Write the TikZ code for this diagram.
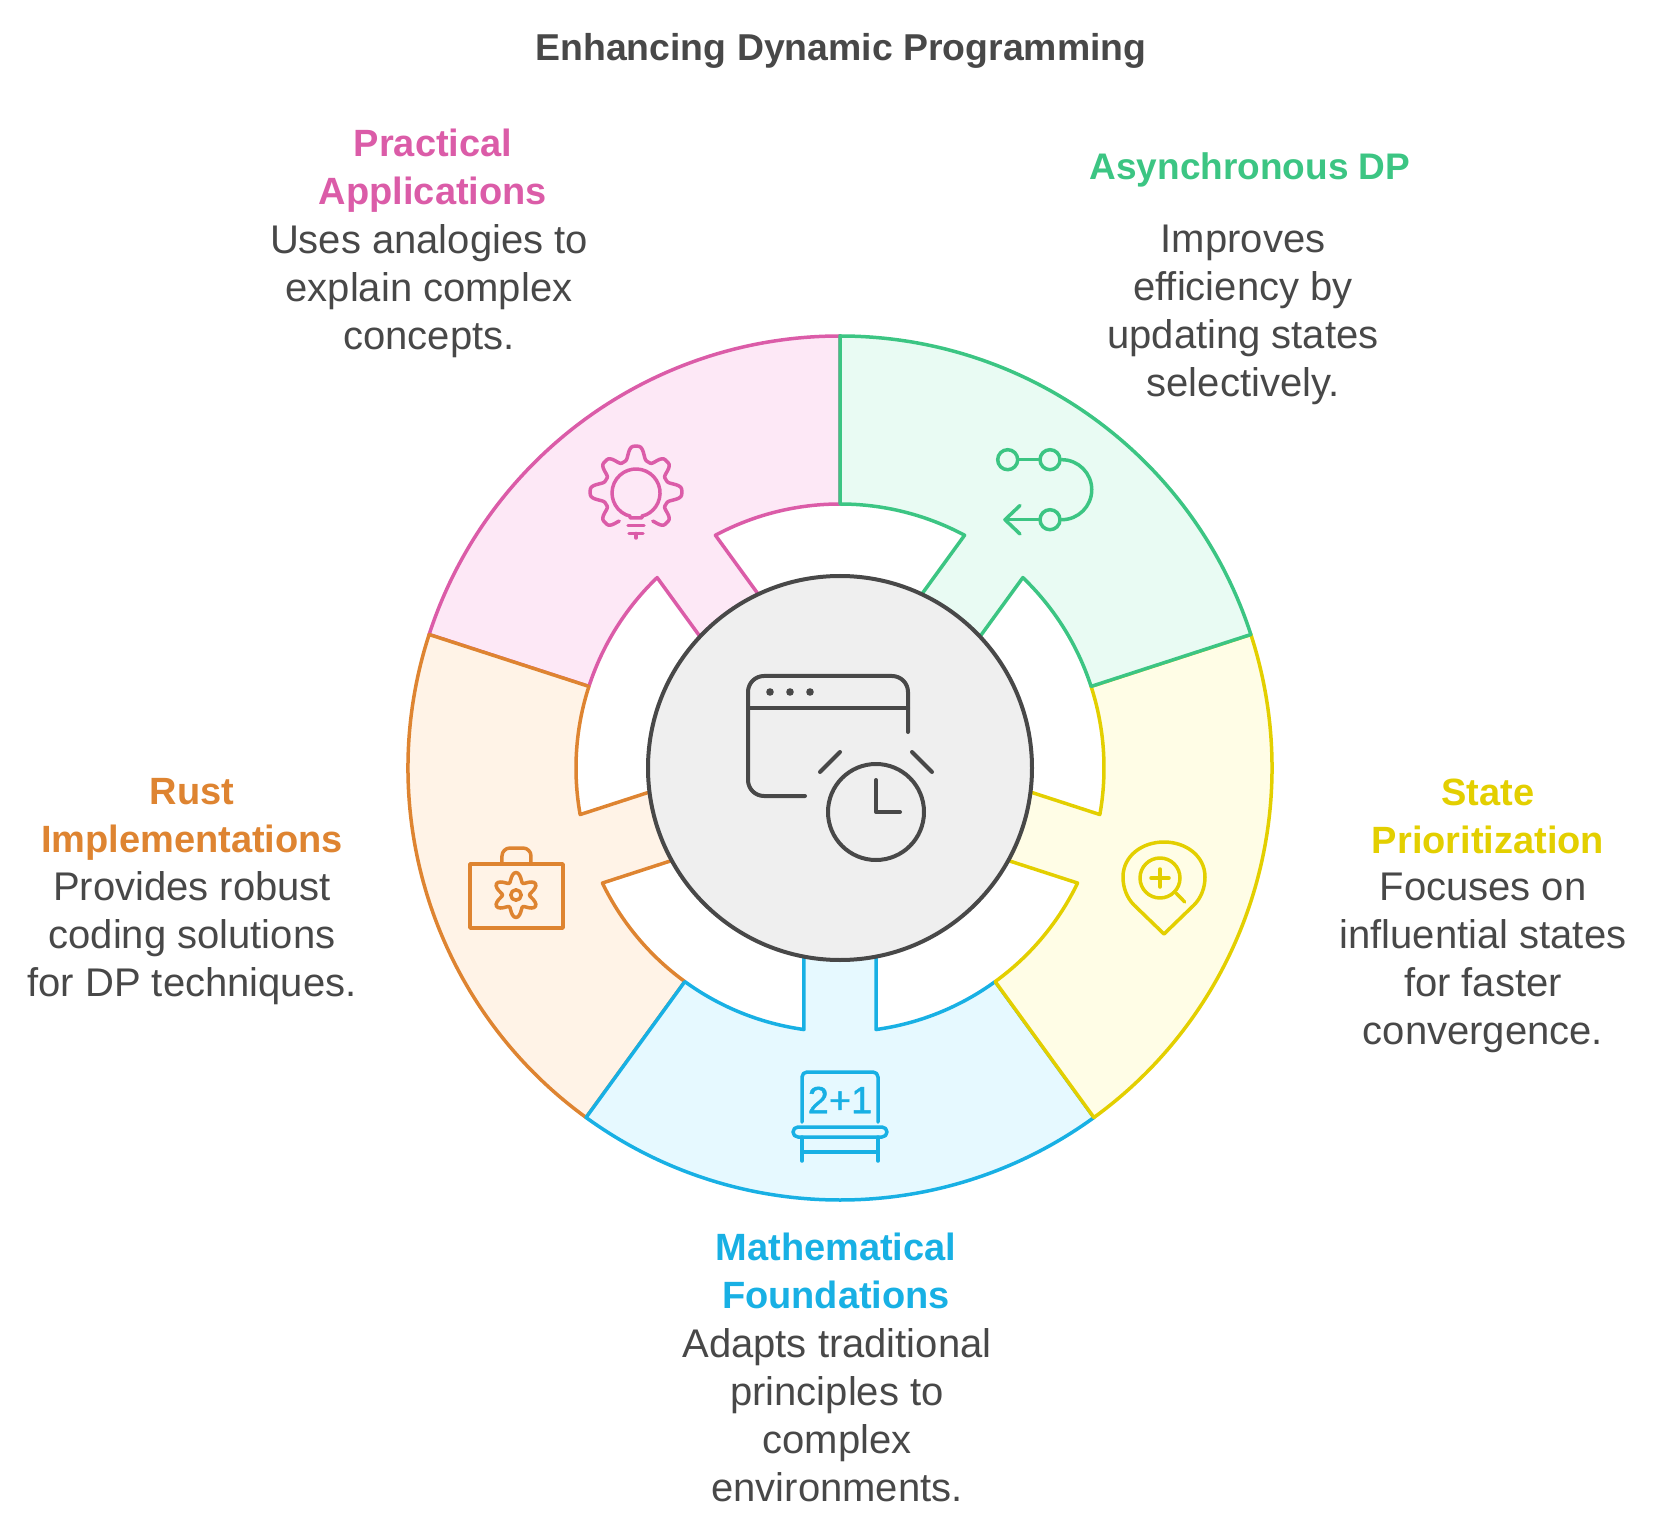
\documentclass[tikz,border=0pt]{standalone}
\usepackage{fontspec}
\setmainfont{Liberation Sans}
\definecolor{inkgray}{HTML}{484848}
\definecolor{hubfill}{HTML}{EFEFEF}
\definecolor{pinkink}{HTML}{DB5CA8}
\definecolor{pinktint}{HTML}{FDE8F6}
\definecolor{orangeink}{HTML}{DE8431}
\definecolor{orangetint}{HTML}{FFF3E7}
\definecolor{blueink}{HTML}{18B0E4}
\definecolor{bluetint}{HTML}{E6F9FF}
\definecolor{yellowink}{HTML}{E3CF00}
\definecolor{yellowtint}{HTML}{FFFDE6}
\definecolor{greenink}{HTML}{3CC583}
\definecolor{greentint}{HTML}{E9FBF3}

\begin{document}
\begin{tikzpicture}[x=0.5pt, y=0.5pt, line join=round]
    \tikzstyle{image} = [shift={(-840,768)}, yscale=-1]
    \tikzstyle{ring} = [line width=1.75pt]
    \tikzstyle{glyph} = [line width=1.75pt, line cap=round]
    \tikzstyle{heading} = [inner sep=0, align=center, font=\bfseries\fontsize{19}{24}\selectfont]
    \tikzstyle{blurb} = [inner sep=0, align=center, text=inkgray, font=\fontsize{20}{24}\selectfont]
    \tikzstyle{stop} = [circle, draw=greenink, inner sep=0, minimum size=10pt, line width=1.75pt]

    \useasboundingbox (-840,-768) rectangle (828,768);

    \foreach \mid/\ink/\tint in {126/pinkink/pinktint, 198/orangeink/orangetint, 270/blueink/bluetint, 342/yellowink/yellowtint, 54/greenink/greentint}
      \draw [ring, draw=\ink, fill=\tint] ({\mid+36}:432) arc [start angle=\mid+36, end angle=\mid-36, radius=216pt]
        -- ({\mid-36}:264) arc [start angle=\mid-36, end angle=\mid-7.84, radius=132pt]
        -- ({\mid-13.5}:154.26) -- ({\mid+13.5}:154.26)
        -- ({\mid+7.84}:264) arc [start angle=\mid+7.84, end angle=\mid+36, radius=132pt] -- cycle;

    \node [circle, draw=inkgray, fill=hubfill, line width=2pt, minimum size=192pt, inner sep=0] (hub) at (0,0) {};

    \begin{scope}[image]
      \node [heading, text=inkgray, font=\bfseries\fontsize{18.7}{24}\selectfont] (title) at (841,51) {Enhancing Dynamic Programming};

      \node [heading, text=pinkink] (practicalhead) at (433,171) {Practical\\Applications};
      \node [blurb] (practicaltext) at (429,291) {Uses analogies to\\explain complex\\concepts.};

      \node [heading, text=greenink, font=\bfseries\fontsize{18.5}{24}\selectfont] (asynchead) at (1250,170) {Asynchronous DP};
      \node [blurb] (asynctext) at (1243,315) {Improves\\efficiency by\\updating states\\selectively.};

      \node [heading, text=yellowink] (statehead) at (1488,816) {State\\Prioritization};
      \node [blurb] (statetext) at (1483,963) {Focuses on\\influential states\\for faster\\convergence.};

      \node [heading, text=orangeink] (rusthead) at (192,819) {Rust\\Implementations};
      \node [blurb] (rusttext) at (192,938) {Provides robust\\coding solutions\\for DP techniques.};

      \node [heading, text=blueink] (mathhead) at (836,1271) {Mathematical\\Foundations};
      \node [blurb] (mathtext) at (837,1415) {Adapts traditional\\principles to\\complex\\environments.};

      % window and clock
      \draw [glyph, draw=inkgray, line width=2pt] (908,732) -- (908,692) arc [start angle=0, end angle=-90, radius=8pt] -- (764,676) arc [start angle=-90, end angle=-180, radius=8pt] -- (748,780) arc [start angle=180, end angle=90, radius=8pt] -- (805,796);
      \draw [glyph, draw=inkgray, line width=2pt] (748,708) -- (908,708);
      \fill [inkgray] (770,692) circle [radius=1.9pt] (790,692) circle [radius=1.9pt] (810,692) circle [radius=1.9pt];
      \draw [glyph, draw=inkgray, line width=2pt] (876,812) circle [radius=24pt];
      \draw [glyph, draw=inkgray, line width=2pt] (876,780) -- (876,812) -- (900,812);
      \draw [glyph, draw=inkgray, line width=2pt] (820,772) -- (840,752);
      \draw [glyph, draw=inkgray, line width=2pt] (912,752) -- (932,772);

      % bulb in a gear
      \begin{scope}[shift={(636,492)}]
        \draw [glyph, draw=pinkink] plot [domain=-240:60, samples=151, smooth] (\x:{38.5+7*(cos(8*\x)-0.12*cos(24*\x))+1.2*cos(4*\x)});
      \end{scope}
      \draw [glyph, draw=pinkink] (630,518) -- (630,516) -- (625.9,514.75) arc [start angle=115, end angle=425, radius=12pt] -- (642,516) -- (642,518) -- cycle;
      \draw [glyph, draw=pinkink] (628,525.5) -- (644,525.5);
      \draw [glyph, draw=pinkink] (629,533.5) -- (643,533.5);
      \draw [glyph, draw=pinkink] (636,533.5) -- (636,538);

      % loop of stops
      \node [stop] (stopa) at (1007.7,459.7) {};
      \node [stop] (stopb) at (1050,459.7) {};
      \node [stop] (stopc) at (1050,519.7) {};
      \coordinate (arrowend) at (1005,519.7);
      \draw [glyph, draw=greenink] (stopa) -- (stopb);
      \draw [glyph, draw=greenink] (stopb.east) arc [start angle=-90, end angle=90, radius=15pt];
      \draw [glyph, draw=greenink] (stopc) -- (arrowend);
      \draw [glyph, draw=greenink] (1020,505.5) -- (arrowend) -- (1020,534);

      % pin with a lens
      \draw [glyph, draw=yellowink] (1164,934) -- (1134,905) .. controls (1127,898) and (1123,888) .. (1123,877) .. controls (1123,856) and (1142,842) .. (1164,842) .. controls (1186,842) and (1205,856) .. (1205,877) .. controls (1205,888) and (1201,898) .. (1194,905) -- cycle;
      \draw [glyph, draw=yellowink] (1160,878) circle [radius=10pt];
      \draw [glyph, draw=yellowink] (1151,878) -- (1169,878);
      \draw [glyph, draw=yellowink] (1160,869) -- (1160,887);
      \draw [glyph, draw=yellowink] (1176,893) -- (1184.7,902);

      % board with a sum
      \draw [glyph, draw=blueink] (802,1122) -- (802,1077) arc [start angle=180, end angle=270, radius=2.5pt] -- (873,1072) arc [start angle=270, end angle=360, radius=2.5pt] -- (878,1122);
      \draw [glyph, draw=blueink, rounded corners=2.5pt] (793,1127) rectangle (887,1137);
      \draw [glyph, draw=blueink] (802,1137) -- (802,1161);
      \draw [glyph, draw=blueink] (878,1137) -- (878,1161);
      \draw [glyph, draw=blueink] (802,1152) -- (878,1152);
      \node [inner sep=0, text=blueink, font=\fontsize{19}{24}\selectfont\addfontfeature{FakeBold=1}] (sum) at (840,1100) {2+1};

      % case with a gear
      \draw [glyph, draw=orangeink] (470,864) rectangle (563,928);
      \draw [glyph, draw=orangeink] (502,864) -- (502,856) arc [start angle=180, end angle=270, radius=4pt] -- (523,848) arc [start angle=270, end angle=360, radius=4pt] -- (531,864);
      \begin{scope}[shift={(516,895)}]
        \draw [glyph, draw=orangeink] plot [domain=0:360, samples=73, smooth cycle] (\x:{18-4.5*cos(6*\x)});
        \draw [glyph, draw=orangeink] (0,0) circle [radius=2.6pt];
      \end{scope}
    \end{scope}
\end{tikzpicture}
\end{document}
